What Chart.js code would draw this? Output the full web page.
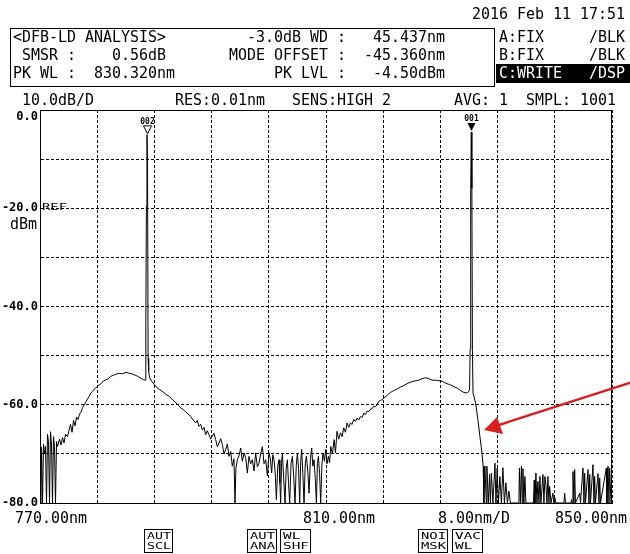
<!DOCTYPE html>
<html>
<head>
<meta charset="utf-8">
<script src="https://cdn.jsdelivr.net/npm/chart.js@4.4.1/dist/chart.umd.min.js"></script>
<style>
html, body { margin: 0; padding: 0; background: #fff; }
body { width: 630px; height: 554px; position: relative; overflow: hidden; }
#plot { position: absolute; left: 0; top: 0; }
.lbl { position: absolute; white-space: pre; transform-origin: 0 50%; font-family: 'DejaVu Sans Mono', monospace; color: #000; }
.inv { color: #fff; }
#hdr { position: absolute; left: 10px; top: 28px; width: 485px; height: 59px; border: 1px solid #000; box-sizing: border-box; }
#cbar { position: absolute; left: 496px; top: 64px; width: 134px; height: 19px; background: #000; }
.btn { position: absolute; top: 529px; height: 24px; border: 1px solid #000; box-sizing: border-box; }
#arrow { position: absolute; left: 0; top: 0; }
</style>
</head>
<body>
<canvas id="plot" width="630" height="554"></canvas>
<div id="hdr"></div>
<div id="cbar"></div>
<svg id="arrow" width="630" height="554">
  <line x1="632" y1="382" x2="499" y2="425" stroke="#d61f1f" stroke-width="2.4"/>
  <polygon points="484,430 497,417 503,434" fill="#d61f1f"/>
</svg>
<script>
// Trace C: wavelength (nm), level (dBm)
const traceC = [
  [770.00,-68.8],[770.10,-80],[770.21,-68.6],[770.35,-80],[770.49,-68.0],[770.63,-70.0],[770.77,-68.5],[770.91,-80],
  [771.05,-66.0],[771.19,-67.5],[771.33,-80],[771.47,-65.5],[771.61,-68.0],[771.75,-80],[771.89,-66.5],[772.03,-68.5],
  [772.17,-80],[772.31,-67.5],[772.45,-68.5],[772.73,-67.0],[772.94,-68.2],[773.15,-66.7],[773.36,-67.8],[773.57,-66.0],
  [773.85,-66.5],[774.06,-65.2],[774.27,-64.0],[774.48,-65.6],[774.69,-63.2],[774.90,-64.3],[775.11,-62.5],[775.32,-63.0],
  [775.53,-61.9],[775.74,-61.5],[775.95,-60.6],[776.19,-60.0],[776.44,-59.4],[776.65,-58.8],[776.88,-58.3],[777.11,-57.6],
  [777.35,-57.3],[777.59,-56.8],[777.95,-56.4],[778.23,-56.0],[778.51,-55.7],[778.86,-55.2],[779.21,-54.9],[779.56,-54.7],
  [779.91,-54.2],[780.26,-54.0],[780.61,-53.8],[781.09,-53.6],[781.55,-53.7],[782.01,-53.4],[782.49,-53.6],[782.84,-53.7],
  [783.19,-53.9],[783.65,-54.2],[784.21,-54.7],[784.49,-54.9],[784.72,-55.0],[784.80,-43.4],[784.88,-19.5],[784.96,-5.06],
  [785.04,-11.0],[785.12,-50.5],[785.20,-53.2],[785.33,-54.5],[785.66,-55.3],[785.99,-55.9],[786.34,-56.5],[786.69,-56.9],
  [787.04,-57.2],[787.39,-57.6],[787.74,-58.0],[788.09,-58.3],[788.55,-59.0],[789.01,-59.6],[789.36,-60.1],[789.71,-60.7],
  [790.06,-61.0],[790.41,-61.5],[790.74,-61.9],[791.07,-62.4],[791.42,-63.1],[791.77,-63.7],[792.00,-63.2],[792.23,-64.4],
  [792.47,-64.0],[792.70,-65.1],[792.94,-64.6],[793.17,-66.1],[793.40,-65.3],[793.63,-66.1],[793.87,-67.0],[794.10,-66.4],
  [794.33,-65.8],[794.57,-67.1],[794.80,-68.5],[795.03,-67.8],[795.27,-66.9],[795.50,-68.1],[795.73,-70.0],[795.97,-69.1],
  [796.20,-68.0],[796.43,-70.5],[796.67,-69.5],[796.90,-72.5],[797.13,-71.0],[797.27,-80],[797.40,-73.0],[797.60,-71.2],
  [797.83,-70.4],[798.07,-68.8],[798.30,-71.5],[798.53,-69.8],[798.77,-70.8],[799.00,-73.9],[799.23,-70.5],[799.46,-72.0],
  [799.70,-71.2],[799.93,-73.5],[800.16,-69.8],[800.40,-72.6],[800.63,-71.9],[800.86,-70.0],[801.10,-68.5],[801.33,-72.0],
  [801.57,-71.2],[801.80,-74.5],[802.03,-69.8],[802.22,-71.0],[802.40,-73.9],[802.56,-70.2],[802.73,-71.2],[802.90,-74.0],
  [803.06,-79.3],[803.25,-72.5],[803.43,-71.2],[803.55,-76.0],[803.66,-80],[803.78,-72.0],[803.90,-69.8],[804.08,-75.0],
  [804.27,-80],[804.43,-73.0],[804.60,-71.2],[804.76,-76.0],[804.92,-80],[805.11,-72.0],[805.30,-70.5],[805.48,-74.5],
  [805.67,-80],[805.84,-72.4],[806.00,-69.8],[806.16,-73.0],[806.32,-80],[806.46,-71.5],[806.60,-69.1],[806.76,-74.0],
  [806.93,-80],[807.10,-72.0],[807.26,-70.5],[807.45,-73.5],[807.63,-78.0],[807.82,-71.0],[808.00,-68.8],[808.16,-72.5],
  [808.33,-71.2],[808.50,-75.0],[808.66,-80],[808.80,-72.0],[808.94,-70.5],[809.10,-74.0],[809.26,-80],[809.43,-72.0],
  [809.59,-69.8],[809.78,-71.5],[809.96,-69.1],[810.15,-72.0],[810.34,-70.5],[810.50,-71.8],[810.66,-68.5],[810.90,-70.0],
  [811.13,-67.1],[811.32,-69.8],[811.54,-65.4],[811.78,-67.0],[812.02,-65.7],[812.25,-66.5],[812.48,-64.7],[812.72,-65.6],
  [812.95,-63.7],[813.18,-64.6],[813.42,-63.7],[813.65,-64.0],[813.88,-63.0],[814.12,-63.4],[814.35,-62.7],[814.58,-63.1],
  [814.82,-62.4],[815.05,-62.6],[815.28,-61.7],[815.51,-62.0],[815.74,-61.3],[815.98,-61.4],[816.22,-60.9],[816.45,-60.8],
  [816.68,-60.3],[816.91,-60.4],[817.14,-60.0],[817.38,-59.3],[817.62,-59.1],[817.85,-59.0],[818.08,-58.6],[818.31,-58.4],
  [818.54,-58.1],[818.78,-57.8],[819.02,-57.5],[819.48,-57.1],[819.94,-56.8],[820.42,-56.4],[820.88,-56.1],[821.34,-55.7],
  [821.82,-55.4],[822.28,-55.2],[822.63,-55.1],[822.98,-55.0],[823.44,-54.7],[823.92,-54.5],[824.38,-54.7],[824.84,-55.0],
  [825.32,-55.0],[825.78,-55.1],[826.24,-55.2],[826.59,-55.5],[826.94,-55.7],[827.29,-55.9],[827.64,-56.1],[827.99,-56.4],
  [828.34,-56.6],[828.82,-57.1],[829.28,-57.5],[829.66,-57.6],[829.92,-57.4],[830.08,-57.0],[830.16,-48.8],[830.24,-16.0],
  [830.32,-4.50],[830.40,-16.0],[830.48,-48.8],[830.56,-57.6],[830.92,-59.6],[831.24,-63.0],[831.52,-66.4],[831.70,-68.5],
  [831.84,-70.2],[831.98,-72.5],[832.08,-80],[832.22,-72.5],[832.43,-80],[832.50,-72.5],[832.71,-80],[832.88,-74.2],
  [832.99,-80],[833.13,-73.9],[833.34,-80],[833.63,-71.9],[833.77,-80],[833.94,-72.9],[834.11,-80],[834.32,-74.6],
  [834.53,-80],[834.74,-72.8],[834.95,-80],[835.16,-75.9],[835.37,-80],[835.58,-77.6],[835.79,-80],[836.98,-80],
  [837.05,-72.9],[837.19,-80],[837.33,-72.5],[837.45,-80],[837.54,-73.0],[837.68,-80],[837.82,-74.6],[837.96,-80],
  [839.01,-80],[839.12,-75.3],[839.22,-80],[839.36,-73.9],[839.50,-80],[839.64,-75.6],[839.78,-80],[839.92,-74.6],
  [840.06,-80],[840.34,-74.2],[840.48,-80],[840.62,-74.6],[840.76,-76.3],[840.90,-80],[841.04,-74.6],[841.18,-80],
  [841.28,-76.6],[841.46,-80],[841.74,-78.0],[841.88,-80],[842.02,-79.0],[842.16,-80],[843.28,-80],[843.38,-78.0],
  [843.49,-80],[844.26,-80],[844.33,-79.3],[844.44,-80],[844.54,-73.6],[844.68,-80],[844.78,-73.2],[844.89,-80],
  [845.48,-78.0],[845.59,-80],[845.94,-72.9],[846.08,-80],[846.18,-73.9],[846.29,-80],[846.64,-73.2],[846.78,-80],
  [846.88,-74.2],[846.99,-80],[847.34,-72.2],[847.48,-80],[847.57,-74.6],[847.69,-80],[848.04,-74.0],[848.18,-80],
  [848.28,-74.9],[848.39,-80],[849.20,-72.9],[849.30,-80],[849.44,-72.5],[849.58,-80],[849.67,-72.9],[849.86,-80],
  [850.00,-80]
];

// Peak markers
const markerLabels = ['002', '001'];
const markerWl = [784.96, 830.32];
const markerLvl = [-5.06, -4.50];
const markerFilled = [false, true];

// Axis ticks
const yTickValues = [0, -20, -40, -60, -80];
const yTickLabels = ['0.0', '-20.0', '-40.0', '-60.0', '-80.0'];
const xTickLabels = ['770.00nm', '810.00nm', '850.00nm'];
const xSpanLabel = '8.00nm/D';

// Screen text, each entry [text, character column]
const dateLine = [['2016 Feb 11 17:51', 51]];
const headerRows = [
  [['<DFB-LD ANALYSIS>', 0], ['-3.0dB WD :', 26], ['45.437nm', 40]],
  [['SMSR :', 1], ['0.56dB', 11], ['MODE OFFSET :', 24], ['-45.360nm', 39]],
  [['PK WL :', 0], ['830.320nm', 9], ['PK LVL :', 29], ['-4.50dBm', 40]]
];
const traceStates = [[['A:FIX', 54], ['/BLK', 64]], [['B:FIX', 54], ['/BLK', 64]], [['C:WRITE', 54], ['/DSP', 64]]];
const statusLine = [['10.0dB/D', 1], ['RES:0.01nm', 18], ['SENS:HIGH 2', 31], ['AVG:', 49], ['1', 54], ['SMPL: 1001', 57]];
const xLabelCols = [0, 32, 60];
const xSpanCol = 47;
const softKeys = [['AUT', 'SCL'], ['AUT', 'ANA'], ['WL', 'SHF'], ['NOI', 'MSK'], ['VAC', 'WL']];

// text placed to span [left, right] with its vertical centre at cy
function place(text, left, right, cy, size, cls) {
  if (!text) return;
  const s = document.createElement('span');
  s.className = 'lbl' + (cls ? ' ' + cls : '');
  s.textContent = text;
  s.style.fontSize = size + 'px';
  s.style.lineHeight = size + 'px';
  document.body.appendChild(s);
  const w = s.getBoundingClientRect().width;
  s.style.left = left + 'px';
  s.style.top = (cy - size / 2) + 'px';
  s.style.transform = 'scaleX(' + ((right - left) / w).toFixed(3) + ')';
}
// character-grid text: 9 px cells
const PITCH = 9;
function cell(entry, x0, cy, cls) {
  const [t, c] = entry;
  const l = x0 + PITCH * c;
  place(t, l, l + PITCH * t.length, cy, 15, cls);
}

const X0 = 13;
dateLine.forEach(e => cell(e, X0, 14));
const rowY = [37, 55, 73];
headerRows.forEach((row, i) => row.forEach(e => cell(e, X0, rowY[i])));
traceStates.forEach((row, i) => row.forEach(e => cell(e, X0, rowY[i], i === 2 ? 'inv' : '')));
statusLine.forEach(e => cell(e, X0, 100));

const XB = 14.5;
xTickLabels.forEach((t, i) => cell([t, xLabelCols[i]], XB, 518));
cell([xSpanLabel, xSpanCol], XB, 518);

place('dBm', 10, 37, 224, 15);
place('REF', 42, 67, 208, 8);

const keyPos = [[144, 173], [247, 277], [280, 311], [418, 448], [452, 483]];
softKeys.forEach((k, i) => {
  const [l, r] = keyPos[i];
  const b = document.createElement('div');
  b.className = 'btn';
  b.style.left = l + 'px';
  b.style.width = (r - l) + 'px';
  document.body.appendChild(b);
  const w = (r - l - 5) / 3;
  place(k[0], l + 3, l + 3 + w * k[0].length, 536, 9);
  place(k[1], l + 3, l + 3 + w * k[1].length, 546, 9);
});

// narrow face for the level scale if one is installed
const probe = document.createElement('canvas').getContext('2d');
function widthIn(font) { probe.font = font; return probe.measureText('-20.0').width; }
const narrow = widthIn('bold 13px "Liberation Sans Narrow", monospace') !== widthIn('bold 13px monospace');
const yFont = narrow ? { family: 'Liberation Sans Narrow', size: 14, weight: 'bold' }
                     : { family: 'DejaVu Sans Mono', size: 12, weight: 'bold' };

// frame and peak markers
const overlay = {
  id: 'osaOverlay',
  afterDatasetsDraw(chart) {
    const { ctx, chartArea: a, scales: { x, y } } = chart;
    ctx.save();
    ctx.setLineDash([]);
    ctx.strokeStyle = '#000';
    ctx.lineWidth = 1;
    const L = Math.round(a.left) + 0.5, T = Math.round(a.top) + 0.5;
    const R = Math.round(a.right) - 0.5, B = Math.round(a.bottom) - 0.5;
    ctx.beginPath();
    ctx.moveTo(L, T); ctx.lineTo(R, T); ctx.lineTo(R, B);
    ctx.stroke();
    markerLabels.forEach((lab, i) => {
      const px = Math.round(x.getPixelForValue(markerWl[i])) + 0.5;
      const py = y.getPixelForValue(markerLvl[i]) - 1;
      ctx.beginPath();
      ctx.moveTo(px, py);
      ctx.lineTo(px - 4, py - 8);
      ctx.lineTo(px + 4, py - 8);
      ctx.closePath();
      if (markerFilled[i]) { ctx.fillStyle = '#000'; ctx.fill(); }
      else { ctx.fillStyle = '#fff'; ctx.fill(); ctx.stroke(); }
      ctx.fillStyle = '#000';
      ctx.font = 'bold 8px "DejaVu Sans Mono"';
      ctx.textAlign = 'center';
      ctx.textBaseline = 'bottom';
      ctx.fillText(lab, px, py - 8);
    });
    ctx.restore();
  }
};

new Chart(document.getElementById('plot'), {
  type: 'scatter',
  data: {
    datasets: [{
      data: traceC.map(p => ({ x: p[0], y: p[1] })),
      showLine: true,
      borderColor: '#000',
      borderWidth: 1,
      pointRadius: 0,
      tension: 0
    }]
  },
  options: {
    responsive: false,
    animation: false,
    events: [],
    layout: { padding: { left: 0, top: 110, right: 18, bottom: 51 } },
    plugins: { legend: { display: false }, tooltip: { enabled: false } },
    scales: {
      x: {
        type: 'linear', min: 770, max: 850,
        ticks: { display: false, stepSize: 8 },
        grid: { color: '#000', lineWidth: 1, drawTicks: false },
        border: { display: true, color: '#000', width: 1, dash: [3, 2] },
        afterFit(s) { s.height = 0; }
      },
      y: {
        type: 'linear', min: -80, max: 0,
        ticks: {
          stepSize: 10, autoSkip: false, color: '#000', padding: 2,
          font: yFont,
          callback(v) {
            const k = yTickValues.indexOf(v);
            if (k < 0) return '';
            return v === 0 ? ['', yTickLabels[k]] : yTickLabels[k];
          }
        },
        grid: { color: '#000', lineWidth: 1, drawTicks: false },
        border: { display: true, color: '#000', width: 1, dash: [3, 2] },
        afterFit(s) { s.width = 40; }
      }
    }
  },
  plugins: [overlay]
});
</script>
</body>
</html>
